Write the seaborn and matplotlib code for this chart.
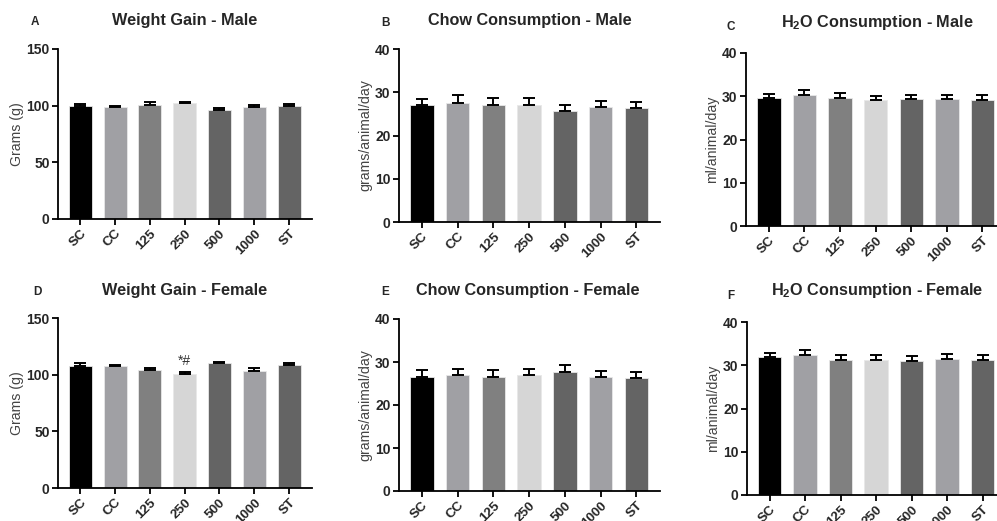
import matplotlib
matplotlib.use("Agg")
import matplotlib.pyplot as plt
import seaborn as sns
import pandas as pd
import numpy as np

sns.set_style("ticks")
plt.rcParams['font.family'] = ['Liberation Sans', 'DejaVu Sans']
plt.rcParams['mathtext.fontset'] = 'custom'
plt.rcParams['mathtext.rm'] = 'Liberation Sans'
plt.rcParams['mathtext.bf'] = 'Liberation Sans:bold'

groups = ["SC", "CC", "125", "250", "500", "1000", "ST"]
bar_colors = ["#000000", "#a0a0a4", "#808080", "#d6d6d6", "#646464", "#a0a0a4", "#646464"]

# Male
weight_male = [100.0, 98.5, 100.9, 102.0, 96.2, 98.5, 100.0]
weight_male_err = [1.5, 1.2, 2.6, 1.0, 2.0, 2.1, 1.5]
chow_male = [27.0, 27.5, 27.05, 27.05, 25.7, 26.6, 26.3]
chow_male_err = [1.5, 1.8, 1.65, 1.7, 1.35, 1.4, 1.45]
water_male = [29.6, 30.4, 29.7, 29.1, 29.3, 29.3, 29.2]
water_male_err = [0.9, 1.1, 1.1, 0.9, 1.0, 1.0, 1.1]
# Female
weight_female = [107.8, 107.5, 104.0, 100.5, 110.5, 103.1, 108.1]
weight_female_err = [2.4, 1.2, 1.8, 2.0, 0.8, 2.4, 2.1]
chow_female = [26.6, 26.9, 26.6, 26.9, 27.7, 26.5, 26.25]
chow_female_err = [1.6, 1.45, 1.5, 1.45, 1.7, 1.5, 1.4]
water_female = [31.9, 32.4, 31.3, 31.3, 31.05, 31.45, 31.3]
water_female_err = [1.0, 1.05, 1.15, 1.1, 1.05, 1.15, 1.1]

panels = [
    ("A", "Weight Gain - Male", "Grams (g)", weight_male, weight_male_err, 150, [0, 50, 100, 150],
     (58, 312, 219, 49), (35, 22), (185, 20)),
    ("B", "Chow Consumption - Male", "grams/animal/day", chow_male, chow_male_err, 40, [0, 10, 20, 30, 40],
     (399, 660, 222, 49), (385, 23), (530, 20)),
    ("C", r"H$_\mathbf{2}$O Consumption - Male", "ml/animal/day", water_male, water_male_err, 40, [0, 10, 20, 30, 40],
     (746, 1006, 226, 53), (731, 27), (877, 22)),
    ("D", "Weight Gain - Female", "Grams (g)", weight_female, weight_female_err, 150, [0, 50, 100, 150],
     (58, 312, 488, 318), (37, 292), (185, 290)),
    ("E", "Chow Consumption - Female", "grams/animal/day", chow_female, chow_female_err, 40, [0, 10, 20, 30, 40],
     (399, 660, 491, 319), (385, 292), (528, 291)),
    ("F", r"H$_\mathbf{2}$O Consumption - Female", "ml/animal/day", water_female, water_female_err, 40, [0, 10, 20, 30, 40],
     (747, 1006, 495, 322), (731, 296), (877, 291)),
]

W, H = 997, 521
fig = plt.figure(figsize=(W / 100, H / 100), dpi=100)

for letter, title, ylabel, vals, errs, ymax, yticks, (l, r, b, t), (lx, ly), (tx, ty) in panels:
    ax = fig.add_axes([l / W, 1 - b / H, (r - l) / W, (b - t) / H])
    df = pd.DataFrame({"group": groups, "value": vals})
    sns.barplot(data=df, x="group", y="value", hue="group", palette=bar_colors,
                order=groups, hue_order=groups, legend=False, width=0.66,
                edgecolor="#e8e8e8", linewidth=0.6, ax=ax, errorbar=None)
    xs = np.arange(len(groups))
    ax.errorbar(xs, vals, yerr=[np.zeros(len(errs)), errs], fmt="none",
                ecolor="black", elinewidth=1.4, capsize=4.3, capthick=1.4, zorder=3)
    ax.set_ylim(0, ymax)
    ax.set_xlim(-0.64, 6.66)
    ax.set_yticks(yticks)
    ax.set_xlabel("")
    ax.set_ylabel(ylabel, fontsize=10.2, color="#444444", labelpad=2)
    sns.despine(ax=ax)
    for s in ("left", "bottom"):
        ax.spines[s].set_linewidth(1.3)
        ax.spines[s].set_color("black")
    ax.tick_params(axis="both", width=1.3, length=4, color="black", labelsize=10, pad=2)
    for lab in ax.get_yticklabels():
        lab.set_fontweight("bold")
    ax.set_xticks(xs)
    ax.set_xticklabels(groups, rotation=45, ha="right", rotation_mode="anchor",
                       fontweight="bold", fontsize=9.7)
    fig.text(lx / W, 1 - ly / H, letter, fontsize=8.5, fontweight="bold", ha="center", va="center")
    fig.text(tx / W, 1 - ty / H, title, fontsize=11.7, fontweight="bold", ha="center", va="center")
    if letter == "D":
        ax.text(3, vals[3] + errs[3] + 3, "*#", ha="center", va="bottom", fontsize=10, color="#333333")

fig.savefig("out.png", dpi=100)
